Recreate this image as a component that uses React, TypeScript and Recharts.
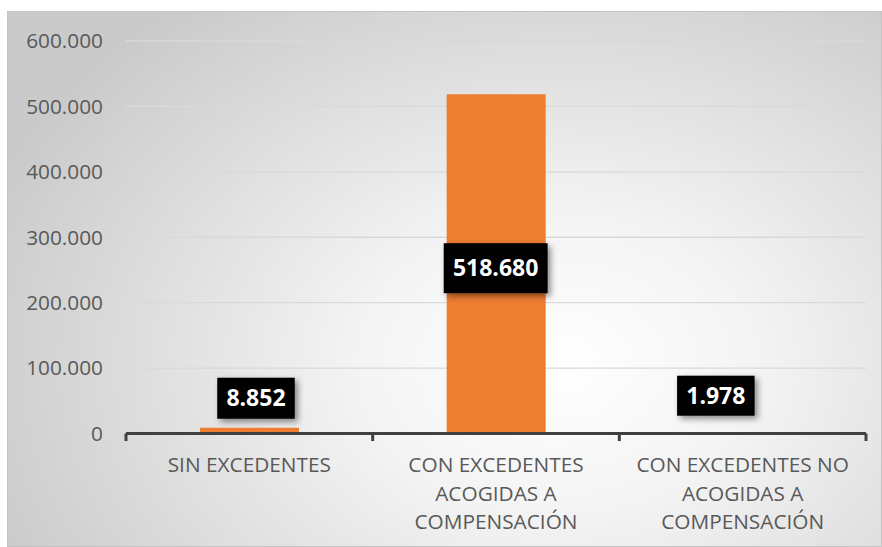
import React from 'react';
import { BarChart, Bar, XAxis, YAxis, CartesianGrid, LabelList } from 'recharts';

const categories = ['SIN EXCEDENTES', 'CON EXCEDENTES ACOGIDAS A COMPENSACIÓN', 'CON EXCEDENTES NO ACOGIDAS A COMPENSACIÓN'];
const categoryLines = [
  ['SIN EXCEDENTES'],
  ['CON EXCEDENTES', 'ACOGIDAS A', 'COMPENSACIÓN'],
  ['CON EXCEDENTES NO', 'ACOGIDAS A', 'COMPENSACIÓN'],
];
const values = [8852, 518680, 1978];
const yTicks = [0, 100000, 200000, 300000, 400000, 500000, 600000];

// label placement (layout, relative to bar top)
const labelDx = [6.5, -0.5, -27];
const labelDy = [-29.5, 174, -36.5];
const labelBoxH = [41, 50, 40];

const data = categories.map((name, i) => ({ name, value: values[i] }));

const fmt = (v: number) => String(v).replace(/\B(?=(\d{3})+(?!\d))/g, '.');

const FONT = '"Open Sans", "Noto Sans", sans-serif';
const AXIS = '#404040';

const CatTick = (props: any) => {
  const { x, y, payload, index, visibleTicksCount, width } = props;
  const lines = categoryLines[index] || [String(payload.value)];
  const count = visibleTicksCount || categories.length;
  const half = payload && typeof payload.offset === 'number' && payload.offset > 0 ? payload.offset : width / count / 2;
  const isLast = index === count - 1;
  return (
    <g>
      <line x1={x - half} x2={x - half} y1={y} y2={y + 7.5} stroke={AXIS} strokeWidth={3} />
      {isLast && <line x1={x + half} x2={x + half} y1={y} y2={y + 7.5} stroke={AXIS} strokeWidth={3} />}
      {lines.map((l: string, k: number) => (
        <text key={k} x={x} y={y + 38.5 + k * 28.5} textAnchor="middle" fill="#595959" fontSize={20.8} fontFamily={FONT}>
          {l}
        </text>
      ))}
    </g>
  );
};

const DataLabel = (props: any) => {
  const { x, y, width, value, index } = props;
  const i = index ?? 0;
  const txt = fmt(Number(value));
  const digits = txt.replace(/\./g, '').length;
  const dots = txt.length - digits;
  const w = digits * 13.2 + dots * 6.7 + 18;
  const h = labelBoxH[i];
  const cx = x + width / 2 + labelDx[i];
  const cy = y + labelDy[i];
  const fid = `shadow-${i}`;
  return (
    <g>
      <defs>
        <filter id={fid} x="-30%" y="-30%" width="160%" height="160%">
          <feDropShadow dx="3" dy="3" stdDeviation="3" floodColor="#000" floodOpacity="0.45" />
        </filter>
      </defs>
      <rect x={cx - w / 2} y={cy - h / 2} width={w} height={h} fill="#000" filter={`url(#${fid})`} />
      <text x={cx} y={cy} dy="0.36em" textAnchor="middle" fill="#fff" fontWeight="bold" fontSize={23} fontFamily={FONT}>
        {txt}
      </text>
    </g>
  );
};

export default function App() {
  return (
    <div style={{ position: 'fixed', left: 0, top: 0, width: 882, height: 547, background: '#fff' }}>
      <div
        style={{
          position: 'absolute',
          left: 7,
          top: 11,
          width: 873,
          height: 534,
          border: '1px solid #c4c4c4',
          background: 'radial-gradient(ellipse 70% 85% at 63% 66%, #ffffff 0%, #f4f4f4 32%, #dfdfdf 66%, #cacaca 100%)',
        }}
      />
      <div style={{ position: 'absolute', left: 0, top: 0 }}>
        <BarChart width={882} height={547} data={data} margin={{ top: 41, right: 16, bottom: 0, left: 0 }}>
          <CartesianGrid vertical={false} stroke="#d9d9d9" strokeWidth={1.3} />
          <YAxis
            type="number"
            domain={[0, 600000]}
            ticks={yTicks}
            width={126}
            axisLine={false}
            tickLine={false}
            tickSize={0}
            tickMargin={23}
            tickFormatter={fmt}
            tick={{ fill: '#595959', fontSize: 20.8, fontFamily: FONT }}
          />
          <XAxis
            dataKey="name"
            height={113.5}
            axisLine={{ stroke: AXIS, strokeWidth: 3 }}
            tickLine={false}
            tickSize={0}
            tickMargin={0}
            interval={0}
            tick={<CatTick />}
          />
          <Bar dataKey="value" fill="#ED7D31" barSize={99} isAnimationActive={false}>
            <LabelList dataKey="value" content={<DataLabel />} />
          </Bar>
        </BarChart>
      </div>
    </div>
  );
}
